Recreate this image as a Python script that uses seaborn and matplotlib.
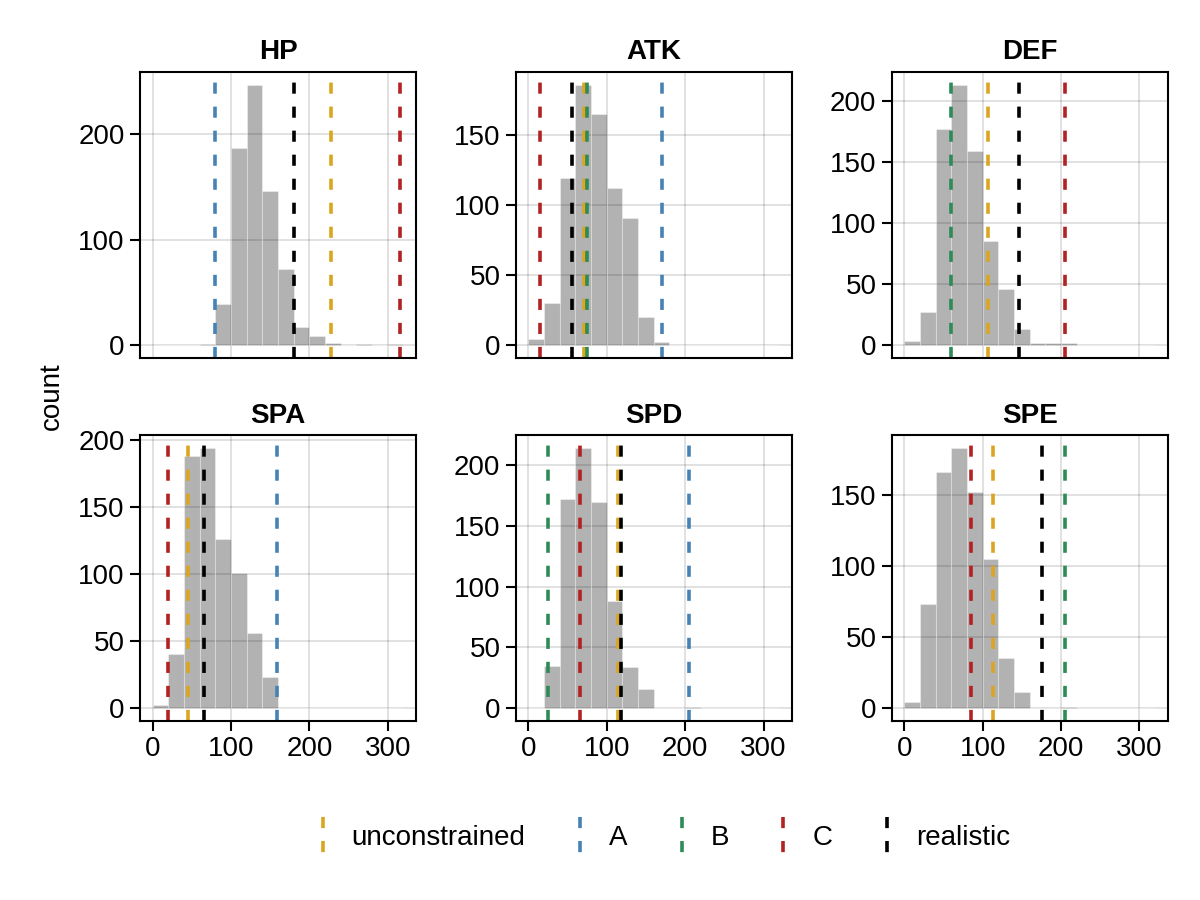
import numpy as np
import matplotlib
matplotlib.use("Agg")
import matplotlib.pyplot as plt
import seaborn as sns
from matplotlib.lines import Line2D
from matplotlib.legend_handler import HandlerBase

# bin counts, bins of width 20 starting at 0 (0-20, 20-40, ..., 300-320)
bin_edges = list(range(0, 340, 20))
stats = ["HP", "ATK", "DEF", "SPA", "SPD", "SPE"]
hp_counts = [0, 0, 0, 1, 39, 187, 247, 146, 72, 17, 8, 2, 0, 1, 0, 1]
atk_counts = [4, 30, 119, 186, 165, 112, 91, 20, 2, 0, 0, 0, 0, 0, 0, 0]
def_counts = [3, 27, 177, 213, 159, 85, 46, 13, 1, 1, 1, 0, 0, 0, 0, 0]
spa_counts = [2, 40, 188, 194, 126, 101, 56, 23, 0, 0, 0, 0, 0, 0, 0, 0]
spd_counts = [0, 35, 172, 214, 170, 88, 34, 16, 0, 0, 1, 0, 0, 0, 0, 0]
spe_counts = [4, 73, 166, 183, 152, 105, 35, 11, 0, 0, 1, 0, 0, 0, 0, 0]
all_counts = [hp_counts, atk_counts, def_counts, spa_counts, spd_counts, spe_counts]

# reference lines per stat (None = not shown)
series = ["unconstrained", "A", "B", "C", "realistic"]
series_colors = ["goldenrod", "steelblue", "seagreen", "firebrick", "black"]
unconstrained_vals = [228, 71, 107, 45, 114, 113]
a_vals = [80, 170, None, 159, 205, None]
b_vals = [None, 75, 60, None, 25, 205]
c_vals = [315, 15, 205, 20, 66, 85]
realistic_vals = [180, 56, 146, 66, 118, 176]
line_vals = [unconstrained_vals, a_vals, b_vals, c_vals, realistic_vals]

sns.set_style("ticks")
plt.rcParams["font.family"] = ["Liberation Sans", "DejaVu Sans"]
plt.rcParams["font.size"] = 20
plt.rcParams["text.color"] = "black"
plt.rcParams["xtick.color"] = "black"
plt.rcParams["ytick.color"] = "black"
plt.rcParams["axes.labelcolor"] = "black"
plt.rcParams["lines.scale_dashes"] = False

fig = plt.figure(figsize=(12, 9), dpi=100)

lefts = [0.1167, 0.4298, 0.7431]
bottoms = [0.6026, 0.1989]
w, h = 0.230, 0.3175
dash = (8, 9.3)
lw = 2.6

centers = [e + 10 for e in bin_edges[:-1]]

for i, name in enumerate(stats):
    r, c = divmod(i, 3)
    ax = fig.add_axes([lefts[c], bottoms[r], w, h])
    ax.grid(True, color="black", alpha=0.12, lw=1.4)
    ax.set_axisbelow(True)
    counts = all_counts[i]
    sns.histplot(x=centers, weights=counts, bins=bin_edges, ax=ax,
                 color="black", alpha=0.3, edgecolor=(1, 1, 1, 0.35), linewidth=0.8)
    for vals, col in zip(line_vals, series_colors):
        v = vals[i]
        if v is not None:
            ax.axvline(v, color=col, lw=lw, dashes=dash)
    ymax = max(counts)
    ax.set_xlim(-16, 336)
    ax.set_ylim(-0.05 * ymax, 1.05 * ymax)
    ax.set_xticks([0, 100, 200, 300])
    ax.set_ylabel("")
    ax.set_xlabel("")
    ax.set_title(name, fontweight="bold", fontsize=20, pad=9)
    for s in ax.spines.values():
        s.set_linewidth(1.5)
        s.set_color("black")
    ax.tick_params(length=7, width=1.5, labelsize=20, pad=4)
    if r == 0:
        ax.tick_params(axis="x", bottom=False, labelbottom=False)

fig.text(0.043, 1 - 396 / 900, "count", rotation=90, ha="center", va="center", fontsize=20)


class VLineHandler(HandlerBase):
    def create_artists(self, legend, orig, xd, yd, width, height, fontsize, trans):
        x = width / 2 - xd
        ln = Line2D([x, x], [height - yd + 4, -yd - 4])
        ln.update_from(orig)
        ln.set_transform(trans)
        return [ln]


handles = [Line2D([0], [0], color=col, lw=lw, dashes=dash) for col in series_colors]
fig.legend(handles, series, loc="center", bbox_to_anchor=(0.55, 0.07), ncol=5,
           frameon=False, handler_map={Line2D: VLineHandler()},
           handlelength=0.9, handleheight=1.0, handletextpad=0.6, columnspacing=1.5,
           fontsize=20)

fig.savefig("out.png", dpi=100)
